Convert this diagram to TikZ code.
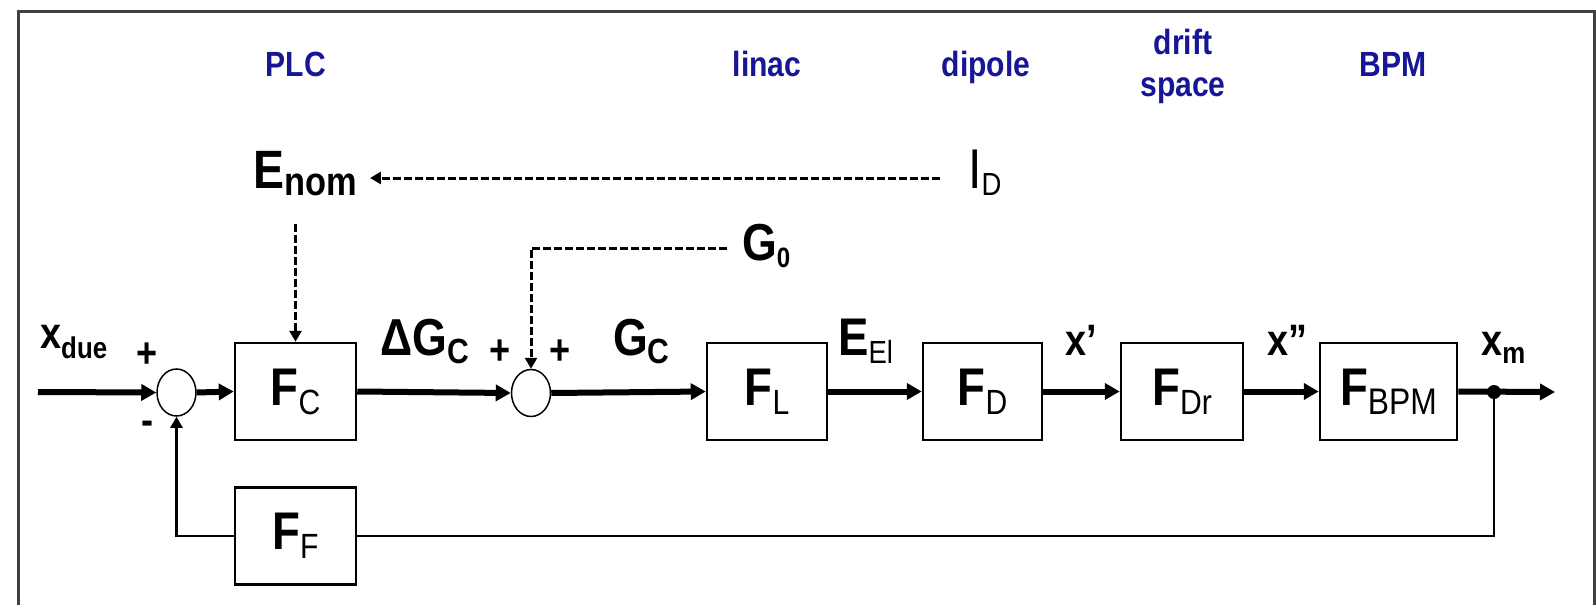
\documentclass[tikz,border=0pt]{standalone}
\usepackage{fontspec}
\setmainfont{Liberation Sans}[FakeStretch=0.86]
\usetikzlibrary{arrows.meta,shapes.geometric}
\definecolor{plcblue}{RGB}{22,22,150}
\newcommand{\lo}[3]{\raisebox{-#1pt}{\fontsize{#2}{#2}\selectfont #3}}
\newcommand{\Fsub}[2][35]{\fontsize{53}{53}\selectfont\bfseries F\lo{9}{#1}{\mdseries #2}}
\tikzset{
  blk/.style   ={rectangle, draw=black, line width=2.5pt, minimum width=121pt, minimum height=97pt, inner sep=0pt},
  sumj/.style  ={ellipse, draw=black, line width=1.5pt, minimum width=39pt, minimum height=47pt, inner sep=0pt},
  lbl/.style   ={text=plcblue, font=\fontsize{35}{42}\selectfont\bfseries, align=center, inner sep=0pt},
  sig/.style   ={font=\bfseries, inner sep=0pt, anchor=base west},
  sgn/.style   ={font=\fontsize{42}{42}\selectfont\bfseries, inner sep=0pt},
  mainln/.style={line width=6pt, -{Triangle[length=15pt,width=16pt]}},
  fbln/.style  ={line width=2.5pt},
  dsh/.style   ={line width=3pt, dash pattern=on 8pt off 3pt, -{Triangle[length=11pt,width=12pt]}},
}
\begin{document}
\begin{tikzpicture}[x=1pt,y=-1pt]
\useasboundingbox (0,0) rectangle (1596,605);
\draw[line width=3pt, black!75] (18,612) |- (1594,11) -- (1594,612);
% forward path blocks
\node[blk] (fc)   at (295.5,391.5) {\Fsub{C}};
\node[blk, minimum width=120pt] (fl) at (767,391.5) {\Fsub{L}};
\node[blk, minimum width=119pt] (fd) at (982.5,391.5) {\Fsub{D}};
\node[blk, minimum width=122pt] (fdr) at (1182,391.5) {\Fsub{Dr}};
\node[blk, minimum width=137pt] (fbpm) at (1388.5,391.5) {\Fsub[37]{BPM}};
\node[blk] (ff)   at (295.5,536) {\Fsub{F}};
\node[sumj] (s1) at (176.5,392.5) {};
\node[sumj] (s2) at (531,393) {};
% section names
\node[lbl, anchor=base] (plc)    at (296,76) {PLC};
\node[lbl, anchor=base] (linac)  at (767,76) {linac};
\node[lbl, anchor=base] (dipole) at (986,76) {dipole};
\node[lbl] (drift)  at (1183,66) {drift\\space};
\node[lbl, anchor=base] (bpm)    at (1393,76) {BPM};
% signals
\node[sig] (xdue) at (40,348)  {\fontsize{44}{44}\selectfont x\lo{10}{30}{due}};
\node[sig] (dgc)  at (380,355) {\fontsize{52}{52}\selectfont ΔG\lo{8}{35}{C}};
\node[sig] (gc)   at (613,355) {\fontsize{52}{52}\selectfont G\lo{8}{35}{C}};
\node[sig] (eel)  at (838,355) {\fontsize{53}{53}\selectfont E\lo{8}{32}{\mdseries El}};
\node[sig] (xp)   at (1065,355) {\fontsize{44}{44}\selectfont x’};
\node[sig] (xpp)  at (1267,355) {\fontsize{44}{44}\selectfont x”};
\node[sig] (xm)   at (1481,355) {\fontsize{44}{44}\selectfont x\lo{8}{30}{m}};
\node[sig] (enom) at (253,188) {\fontsize{54}{54}\selectfont E\lo{7}{40}{nom}};
\node[sig] (id)   at (968,188) {\fontsize{56}{56}\selectfont\mdseries I\lo{7}{32}{D}};
\node[sig] (g0)   at (742,260) {\fontsize{52}{52}\selectfont G\lo{7}{28}{0}};
\node[sgn] (p1) at (147,355) {+};
\node[sgn] (m1) at (148,428) {-};
\node[sgn] (p2) at (500,352) {+};
\node[sgn] (p3) at (560,352) {+};
% main path
\coordinate (xin) at (38,392);
\coordinate (xout) at (1555,392);
\coordinate (tap) at (1494,392);
\draw[mainln] (xin) -- (s1.west);
\draw[mainln] (s1.east) -- (fc.west);
\draw[mainln] (fc.east) -- (s2.west);
\draw[mainln] (s2.east) -- (fl.west);
\draw[mainln] (fl.east) -- (fd.west);
\draw[mainln] (fd.east) -- (fdr.west);
\draw[mainln] (fdr.east) -- (fbpm.west);
\draw[mainln] (fbpm.east) -- (xout);
\fill (tap) circle (7pt);
% feedback
\draw[fbln] (tap) |- (ff.east);
\draw[fbln, -{Triangle[length=11pt,width=12pt]}] (ff.west) -| (s1.south);
% disturbances
\coordinate (dend) at (940,178);
\draw[dsh] (dend) -- ([xshift=13pt]enom.east |- dend);
\draw[dsh, shorten <=28pt] (fc.north |- enom.south) -- (fc.north);
\draw[dsh, shorten <=15pt] (g0.west |- 0,248) -| (s2.north);
\end{tikzpicture}
\end{document}
